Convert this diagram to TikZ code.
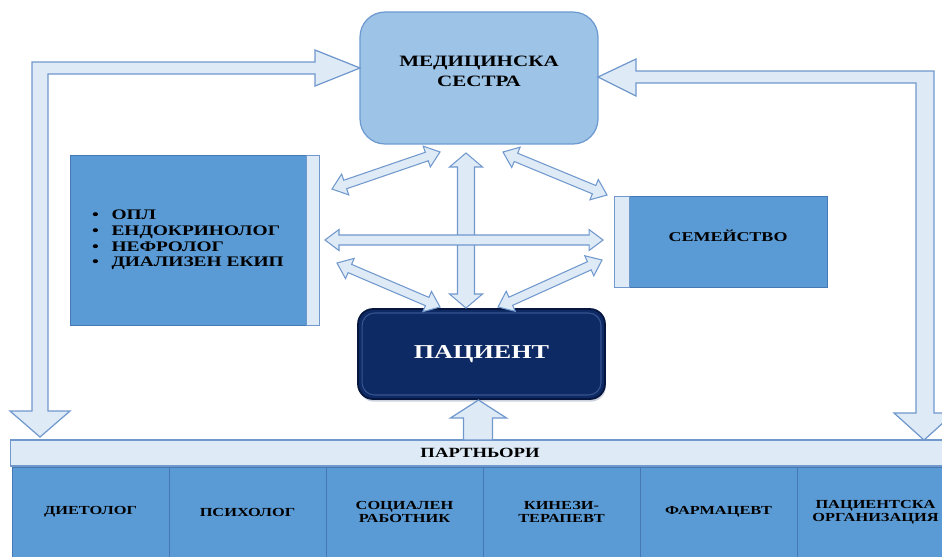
\documentclass[tikz,border=0pt]{standalone}
\usepackage{fontspec}
\setmainfont{Liberation Serif}[FakeStretch=1.33]
\usetikzlibrary{calc,positioning,shadows}
\definecolor{lightfill}{RGB}{222,235,247}
\definecolor{arrowline}{RGB}{112,152,205}
\definecolor{nursefill}{RGB}{157,195,230}
\definecolor{nurseline}{RGB}{108,154,208}
\definecolor{midblue}{RGB}{91,155,213}
\definecolor{midline}{RGB}{70,120,180}
\definecolor{navy}{RGB}{14,42,100}
\definecolor{navyline}{RGB}{6,22,62}
\definecolor{navyinner}{RGB}{55,85,145}
\tikzset{
  bigarrow/.style={fill=lightfill,draw=arrowline,line width=0.7pt,line join=miter},
  smallarrow/.style={fill=lightfill,draw=arrowline,line width=0.6pt,line join=miter},
  nursebox/.style={fill=nursefill,draw=nurseline,line width=0.7pt,rounded corners=0.5cm,
    minimum width=4.76cm,minimum height=2.64cm,outer sep=0pt,align=center,text depth=8pt,
    font=\bfseries\fontsize{9}{11.3}\selectfont},
  bluebox/.style={fill=midblue,draw=midline,line width=0.5pt,outer sep=0pt},
  stripbox/.style={fill=lightfill,draw=arrowline,line width=0.5pt,outer sep=0pt,inner sep=0pt},
  patientbox/.style={fill=navy,draw=navyline,line width=1pt,rounded corners=0.3cm,
    minimum width=4.94cm,minimum height=1.8cm,outer sep=0pt,text=white,
    font=\bfseries\fontsize{11.2}{13}\selectfont,
    drop shadow={shadow xshift=0.5pt,shadow yshift=-1.5pt,opacity=0.3,fill=navy!70}},
  bandbox/.style={fill=lightfill,draw=arrowline,line width=0.6pt,outer sep=0pt,
    minimum width=18.8cm,minimum height=0.52cm,font=\bfseries\fontsize{8}{9}\selectfont},
  colbox/.style={bluebox,minimum width=3.14cm,minimum height=1.8cm,align=center,
    font=\bfseries\fontsize{7}{7.5}\selectfont}
}
% double-headed hollow arrow between two named points
\newcommand{\dblarrow}[4]{%
  \draw[smallarrow] (#3)
    -- ($(#3)!0.28cm!(#4)!#2!90:(#4)$)
    -- ($(#3)!0.28cm!(#4)!#1!90:(#4)$)
    -- ($(#4)!0.28cm!(#3)!#1!-90:(#3)$)
    -- ($(#4)!0.28cm!(#3)!#2!-90:(#3)$)
    -- (#4)
    -- ($(#4)!0.28cm!(#3)!#2!90:(#3)$)
    -- ($(#4)!0.28cm!(#3)!#1!90:(#3)$)
    -- ($(#3)!0.28cm!(#4)!#1!-90:(#4)$)
    -- ($(#3)!0.28cm!(#4)!#2!-90:(#4)$)
    -- cycle;}
\begin{document}
\begin{tikzpicture}[x=0.02cm,y=-0.02cm,line cap=round]
\clip (0,0) rectangle (942,556);
% boxes
\node[nursebox] (nurse) at (479,78) {МЕДИЦИНСКА\\СЕСТРА};
\node[bluebox,minimum width=4.72cm,minimum height=3.4cm,align=left,
  font=\bfseries\fontsize{8.3}{8.9}\selectfont] (team) at (188,240)
  {\makebox[11pt][l]{\textbullet}ОПЛ\\
   \makebox[11pt][l]{\textbullet}ЕНДОКРИНОЛОГ\\
   \makebox[11pt][l]{\textbullet}НЕФРОЛОГ\\
   \makebox[11pt][l]{\textbullet}ДИАЛИЗЕН ЕКИП};
\node[stripbox,minimum width=0.26cm,minimum height=3.4cm,anchor=west] (teamstrip) at (team.east) {};
\node[bluebox,minimum width=3.96cm,minimum height=1.82cm,text depth=7pt,
  font=\bfseries\fontsize{7.7}{9}\selectfont] (family) at (728,241.5) {СЕМЕЙСТВО};
\node[stripbox,minimum width=0.3cm,minimum height=1.82cm,anchor=east] (famstrip) at (family.west) {};
\node[patientbox] (patient) at (481.5,354) {ПАЦИЕНТ};
\draw[navyinner,line width=0.6pt,rounded corners=0.25cm]
  ($(patient.north west)+(4,4)$) rectangle ($(patient.south east)+(-4,-4)$);
\node[bandbox] (partners) at (480,453) {ПАРТНЬОРИ};
\foreach \name [count=\i] in {{ДИЕТОЛОГ},{ПСИХОЛОГ},{СОЦИАЛЕН\\РАБОТНИК},
    {КИНЕЗИ-\\ТЕРАПЕВТ},{ФАРМАЦЕВТ},{ПАЦИЕНТСКА\\ОРГАНИЗАЦИЯ}}
  \node[colbox] (col\i) at ({12+157*(\i-0.5)},512) {\name};
% loops to the nurse
\draw[bigarrow] ($(nurse.west)+(0,-10)$) -- ++(-45,-18) -- ++(0,12) -- (32,62)
  -- (32,411) -- (10,411) -- (40,437) -- (70,411) -- (48,411) -- (48,74)
  -- (315,74) -- (315,86) -- cycle;
\draw[bigarrow] ($(nurse.east)+(0,-1)$) -- ++(38,-18) -- ++(0,12) -- (934,71)
  -- (934,413) -- (954,413) -- (924,440) -- (894,413) -- (916,413) -- (916,83)
  -- (636,83) -- (636,96) -- cycle;
\draw[bigarrow] ($(patient.south)+(-3,1)$) -- ++(28,18) -- ++(-14,0) -- ++(0,22)
  -- ++(-29,0) -- ++(0,-22) -- ++(-13,0) -- cycle;
% links round the patient
\coordinate (vtop) at ($(nurse.south)+(-13,9)$);
\coordinate (vbot) at ($(patient.north)+(-15.5,-1)$);
\coordinate (hleft) at ($(teamstrip.east)+(6,0)$);
\coordinate (hright) at ($(famstrip.west)+(-11,-1.5)$);
\coordinate (ul1) at ($(teamstrip.north east)+(13,34)$);
\coordinate (ul2) at ($(nurse.south)+(-39,8)$);
\coordinate (ur1) at ($(nurse.south)+(24,8)$);
\coordinate (ur2) at ($(famstrip.north west)+(-7,-1)$);
\coordinate (ll1) at ($(teamstrip.east)+(18,23)$);
\coordinate (ll2) at ($(patient.north west)+(82,-2)$);
\coordinate (lr1) at ($(patient.north)+(16.5,-2)$);
\coordinate (lr2) at ($(famstrip.west)+(-12,18.5)$);
\dblarrow{0.17cm}{0.33cm}{vtop}{vbot}
\dblarrow{0.1cm}{0.21cm}{hleft}{hright}
\dblarrow{0.09cm}{0.22cm}{ul1}{ul2}
\dblarrow{0.09cm}{0.22cm}{ur1}{ur2}
\dblarrow{0.09cm}{0.22cm}{ll1}{ll2}
\dblarrow{0.09cm}{0.22cm}{lr1}{lr2}
\end{tikzpicture}
\end{document}
